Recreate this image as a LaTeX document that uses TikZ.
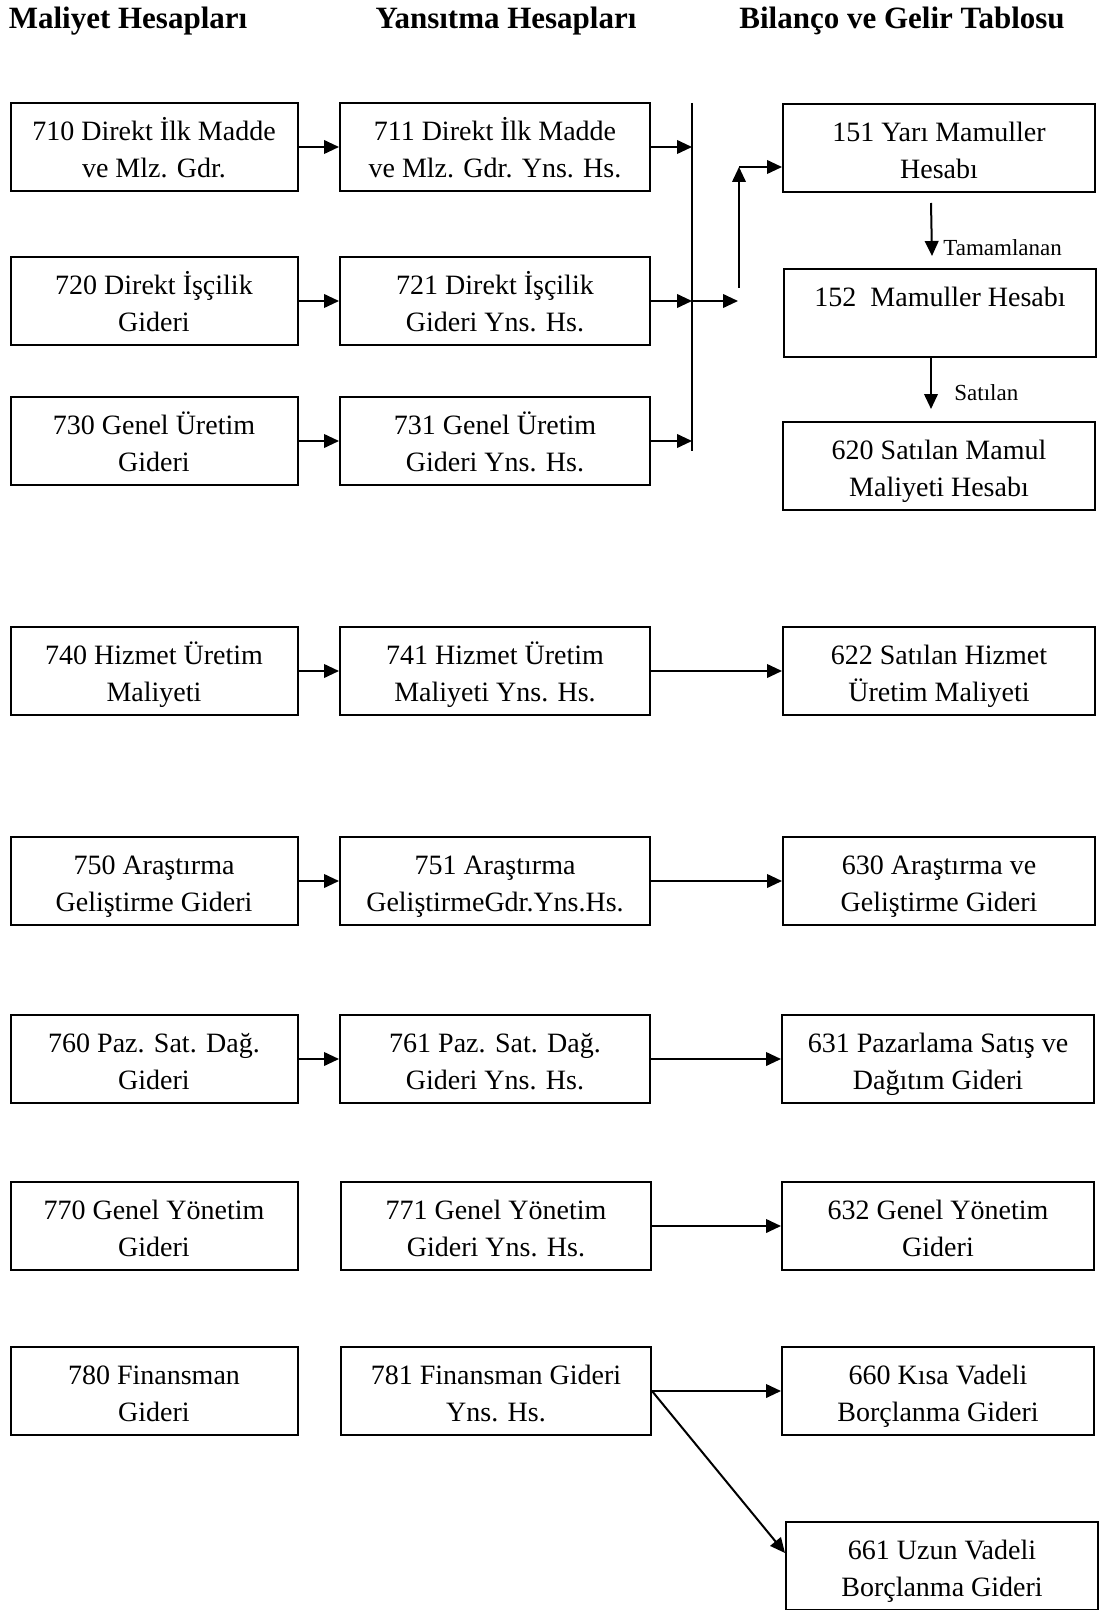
\documentclass[tikz,border=0pt]{standalone}
\usepackage{fontspec}
\setmainfont{Liberation Serif}
\usetikzlibrary{arrows.meta}

\begin{document}
\begin{tikzpicture}[x=0.5pt, y=-0.5pt, >={Triangle[length=7.5pt,width=6.8pt]},
  hesap/.style={draw, line width=1pt, align=center, inner sep=0pt,
    font=\fontsize{14}{18.5}\selectfont, execute at begin node={\rule[-3.5pt]{0pt}{37.5pt}}},
  kol1/.style={hesap, minimum width=143.5pt, minimum height=44pt},
  kol2/.style={hesap, minimum width=155pt, minimum height=44pt},
  kol3/.style={hesap, minimum width=156pt, minimum height=44pt},
  baslik/.style={font=\fontsize{15.5}{18}\selectfont\bfseries},
  etiket/.style={font=\fontsize{11.5}{13}\selectfont, anchor=west, inner sep=0pt},
  ok/.style={->, line width=1pt}]
  \useasboundingbox (0,0) rectangle (1102,1610);
  % column titles
  \node[baslik] (bas1) at (128,21) {Maliyet Hesapları};
  \node[baslik] (bas2) at (506,21) {Yansıtma Hesapları};
  \node[baslik] (bas3) at (902,21) {Bilanço ve Gelir Tablosu};
  % maliyet hesaplari
  \node[kol1] (m710) at (154,147) {710 Direkt İlk Madde\\ve Mlz. Gdr.};
  \node[kol1] (m720) at (154,301) {720 Direkt İşçilik\\Gideri};
  \node[kol1] (m730) at (154,441) {730 Genel Üretim\\Gideri};
  \node[kol1] (m740) at (154,671) {740 Hizmet Üretim\\Maliyeti};
  \node[kol1] (m750) at (154,881) {750 Araştırma\\Geliştirme Gideri};
  \node[kol1] (m760) at (154,1059) {760 Paz. Sat. Dağ.\\Gideri};
  \node[kol1] (m770) at (154,1226) {770 Genel Yönetim\\Gideri};
  \node[kol1] (m780) at (154,1391) {780 Finansman\\Gideri};
  % yansitma hesaplari
  \node[kol2] (y711) at (495,147) {711 Direkt İlk Madde\\ve Mlz. Gdr. Yns. Hs.};
  \node[kol2] (y721) at (495,301) {721 Direkt İşçilik\\Gideri Yns. Hs.};
  \node[kol2] (y731) at (495,441) {731 Genel Üretim\\Gideri Yns. Hs.};
  \node[kol2] (y741) at (495,671) {741 Hizmet Üretim\\Maliyeti Yns. Hs.};
  \node[kol2] (y751) at (495,881) {751 Araştırma\\GeliştirmeGdr.Yns.Hs.};
  \node[kol2] (y761) at (495,1059) {761 Paz. Sat. Dağ.\\Gideri Yns. Hs.};
  \node[kol2] (y771) at (496,1226) {771 Genel Yönetim\\Gideri Yns. Hs.};
  \node[kol2] (y781) at (496,1391) {781 Finansman Gideri\\Yns. Hs.};
  % bilanco ve gelir tablosu
  \node[kol3] (b151) at (939,148) {151 Yarı Mamuller\\Hesabı};
  \node[kol3] (b152) at (940,313) {152\ \ Mamuller Hesabı\\~};
  \node[kol3] (b620) at (939,466) {620 Satılan Mamul\\Maliyeti Hesabı};
  \node[kol3] (b622) at (939,671) {622 Satılan Hizmet\\Üretim Maliyeti};
  \node[kol3] (b630) at (939,881) {630 Araştırma ve\\Geliştirme Gideri};
  \node[kol3] (b631) at (938,1059) {631 Pazarlama Satış ve\\Dağıtım Gideri};
  \node[kol3] (b632) at (938,1226) {632 Genel Yönetim\\Gideri};
  \node[kol3] (b660) at (938,1391) {660 Kısa Vadeli\\Borçlanma Gideri};
  \node[kol3] (b661) at (942,1566) {661 Uzun Vadeli\\Borçlanma Gideri};
  % maliyet -> yansitma
  \foreach \a/\b in {m710/y711, m720/y721, m730/y731, m740/y741, m750/y751, m760/y761}
    \draw[ok] (\a) -- (\b);
  % yansitma -> toplama cizgisi -> 151
  \coordinate (busust) at (692,103);
  \coordinate (busalt) at (692,451);
  \draw[line width=1pt] (busust) -- (busalt);
  \foreach \b in {y711, y721, y731}
    \draw[ok] (\b.east) -- (\b.east -| busust);
  \coordinate (cikis) at (738,301);
  \coordinate (dip) at (739,288);
  \coordinate (kirik) at (739,167);
  \draw[ok] (y721.east -| busust) -- (cikis);
  \draw[ok] (dip) -- (kirik);
  \draw[ok] (kirik) -- (kirik -| b151.west);
  % 151 -> 152 -> 620
  \draw[ok] ([xshift=-4pt,yshift=-5pt]b151.south) -- ([xshift=-4pt,yshift=6pt]b152.north);
  \node[etiket] (tamam) at (943,248) {Tamamlanan};
  \draw[ok] ([xshift=-4.5pt]b152.south) -- ([xshift=-4pt,yshift=6pt]b620.north);
  \node[etiket] (satil) at (954,393) {Satılan};
  % yansitma -> gelir tablosu
  \foreach \a/\b in {y741/b622, y751/b630, y761/b631, y771/b632, y781/b660}
    \draw[ok] (\a) -- (\b);
  \draw[ok] (y781.east) -- ([yshift=6.5pt]b661.west);
\end{tikzpicture}
\end{document}
